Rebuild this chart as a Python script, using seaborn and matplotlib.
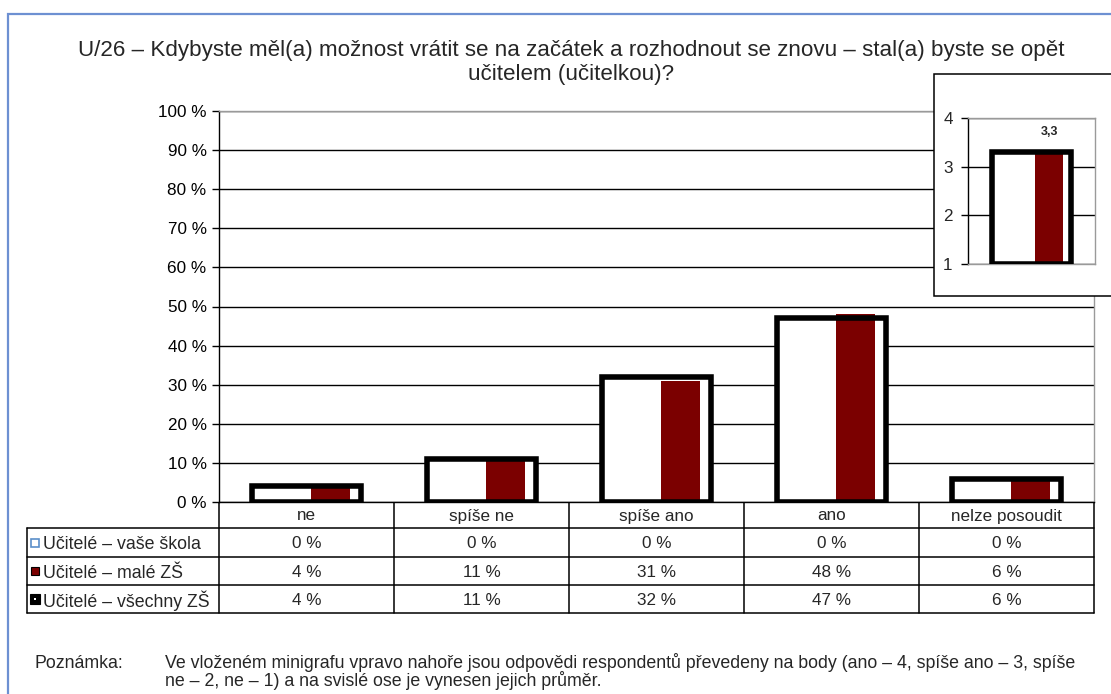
import numpy as np
import pandas as pd
import seaborn as sns
import matplotlib.pyplot as plt
from matplotlib.patches import Rectangle
from matplotlib.lines import Line2D
from matplotlib import transforms

# ---- data ----
categories = ['ne', 'spíše ne', 'spíše ano', 'ano', 'nelze posoudit']
vase_skola = [0, 0, 0, 0, 0]
male_zs = [4, 11, 31, 48, 6]
vsechny_zs = [4, 11, 32, 47, 6]
series_labels = ['Učitelé – vaše škola', 'Učitelé – malé ZŠ', 'Učitelé – všechny ZŠ']
y_ticks = [0, 10, 20, 30, 40, 50, 60, 70, 80, 90, 100]
inset_male = 3.3
inset_vsechny = 3.3
inset_ticks = [1, 2, 3, 4]
title_lines = ['U/26 – Kdybyste měl(a) možnost vrátit se na začátek a rozhodnout se znovu – stal(a) byste se opět',
               'učitelem (učitelkou)?']
note_label = 'Poznámka:'
note_lines = ['Ve vloženém minigrafu vpravo nahoře jsou odpovědi respondentů převedeny na body (ano – 4, spíše ano – 3, spíše',
              'ne – 2, ne – 1) a na svislé ose je vynesen jejich průměr.']

sns.set_theme(style='white')
plt.rcParams['font.family'] = ['Liberation Sans', 'DejaVu Sans']

W, H = 1111, 694
fig = plt.figure(figsize=(W / 100, H / 100), dpi=100)
fig.patch.set_facecolor('white')

def fx(px):
    return px / W

def fy(py):
    return 1 - py / H

RED = '#7b0000'
GRAY = '#9a9a9a'
FS_TICK = 12.3
FS_TAB = 12.3

# outer blue frame
fig.add_artist(Rectangle((fx(8), fy(720)), fx(1200), fy(14) - fy(720), transform=fig.transFigure,
                         facecolor='none', edgecolor='#6d90d2', lw=1.6, zorder=0))

# ---- main axes ----
ax = fig.add_axes([fx(219), fy(502), fx(1094) - fx(219), fy(111) - fy(502)])
df = pd.DataFrame({'cat': categories, 'vsechny': vsechny_zs, 'male': male_zs})

sns.barplot(data=df, x='cat', y='vsechny', color='white', saturation=1, width=0.62,
            edgecolor='none', linewidth=0, ax=ax, zorder=2)
xpos = np.arange(len(categories))
ax.bar(xpos + 0.138, df['male'], width=0.225, color=RED, edgecolor='none', zorder=3)
sns.barplot(data=df, x='cat', y='vsechny', color='black', fill=False, width=0.62,
            linewidth=4.0, ax=ax, zorder=4)

ax.set_xlim(-0.5, len(categories) - 0.5)
ax.set_ylim(0, 100)
ax.set_yticks(y_ticks)
ax.set_yticklabels([f'{v} %' for v in y_ticks])
ax.set_xticks([])
ax.set_xlabel('')
ax.set_ylabel('')
ax.yaxis.grid(True, color='black', lw=1.0)
ax.set_axisbelow(True)
ax.tick_params(axis='y', which='major', left=True, length=5, width=1, color='black',
               labelsize=FS_TICK, pad=4, labelcolor='black')
for s in ['left', 'bottom']:
    ax.spines[s].set_color('black')
    ax.spines[s].set_linewidth(1)
for s in ['top', 'right']:
    ax.spines[s].set_color(GRAY)
    ax.spines[s].set_linewidth(1)
for s in ax.spines.values():
    s.set_visible(True)

# ---- data table ----
bt = transforms.blended_transform_factory(ax.transData, fig.transFigure)
row_lines = [503, 528, 557, 585, 613]
row_centers = [(row_lines[i] + row_lines[i + 1]) / 2 for i in range(4)]
table_left = 27
lc = 'black'
for k in range(len(categories) + 1):
    fig.add_artist(Line2D([k - 0.5, k - 0.5], [fy(503), fy(613)], transform=bt, color=lc, lw=1.1))
fig.add_artist(Line2D([fx(table_left), fx(table_left)], [fy(528), fy(613)],
                      transform=fig.transFigure, color=lc, lw=1.1))
for yl in row_lines[1:]:
    fig.add_artist(Line2D([fx(table_left), fx(1094)], [fy(yl), fy(yl)],
                          transform=fig.transFigure, color=lc, lw=1.1))

for i, c in enumerate(categories):
    fig.text(i, fy(row_centers[0] - 1), c, transform=bt, ha='center', va='center_baseline', fontsize=FS_TAB)

rows = [vase_skola, male_zs, vsechny_zs]
for r, vals in enumerate(rows):
    yc = fy(row_centers[r + 1])
    for i, v in enumerate(vals):
        fig.text(i, yc, f'{v} %', transform=bt, ha='center', va='center_baseline', fontsize=FS_TAB)
    fig.text(fx(43), yc, series_labels[r], ha='left', va='center_baseline', fontsize=12.8)

# legend keys in table
ky = [row_centers[1], row_centers[2], row_centers[3]]
fig.add_artist(Rectangle((fx(31), fy(ky[0] + 4)), fx(8), fy(ky[0] - 4) - fy(ky[0] + 4),
                         transform=fig.transFigure, facecolor='white', edgecolor='#5b8fc9', lw=1.2))
fig.add_artist(Rectangle((fx(31), fy(ky[1] + 4)), fx(8), fy(ky[1] - 4) - fy(ky[1] + 4),
                         transform=fig.transFigure, facecolor=RED, edgecolor='black', lw=0.8))
fig.add_artist(Rectangle((fx(30), fy(ky[2] + 5)), fx(10), fy(ky[2] - 5) - fy(ky[2] + 5),
                         transform=fig.transFigure, facecolor='black', edgecolor='black', lw=0.8))
fig.add_artist(Rectangle((fx(34), fy(ky[2] + 1)), fx(2), fy(ky[2] - 1) - fy(ky[2] + 1),
                         transform=fig.transFigure, facecolor='white', edgecolor='none'))

# ---- inset ----
fig.add_artist(Rectangle((fx(934), fy(296)), fx(300), fy(74) - fy(296), transform=fig.transFigure,
                         facecolor='white', edgecolor='black', lw=1.1, zorder=5))
ax2 = fig.add_axes([fx(968), fy(264), fx(1095) - fx(968), fy(118) - fy(264)], zorder=6)
ax2.patch.set_alpha(0)
base = inset_ticks[0]
ax2.bar([0], [inset_vsechny - base], bottom=base, width=0.62, color='white', edgecolor='none', zorder=2)
ax2.bar([0.138], [inset_male - base], bottom=base, width=0.22, color=RED, edgecolor='none', zorder=3)
ax2.bar([0], [inset_vsechny - base], bottom=base, width=0.62, facecolor='none', edgecolor='black',
        lw=4.0, zorder=4)
ax2.annotate(f'{inset_male:.1f}'.replace('.', ','), xy=(0.138, inset_vsechny), xytext=(0, 10),
             textcoords='offset points', ha='center', va='bottom', fontsize=9, fontweight='bold')
ax2.set_xlim(-0.5, 0.5)
ax2.set_ylim(inset_ticks[0], inset_ticks[-1])
ax2.set_yticks(inset_ticks)
ax2.set_yticklabels([str(t) for t in inset_ticks])
ax2.set_xticks([])
ax2.yaxis.grid(True, color='black', lw=1.0)
ax2.set_axisbelow(True)
ax2.tick_params(axis='y', left=True, length=5, width=1, color='black', labelsize=FS_TICK, pad=6)
for s in ax2.spines.values():
    s.set_visible(True)
    s.set_color(GRAY)
    s.set_linewidth(1)
ax2.spines['left'].set_color('black')

# ---- title & note ----
fig.text(fx(571), fy(48), title_lines[0], ha='center', va='center_baseline', fontsize=16.1)
fig.text(fx(571), fy(72), title_lines[1], ha='center', va='center_baseline', fontsize=16.1)
FS_NOTE = 12.8
fig.text(fx(35), fy(661), note_label, ha='left', va='center_baseline', fontsize=FS_NOTE)
fig.text(fx(165), fy(661), note_lines[0], ha='left', va='center_baseline', fontsize=FS_NOTE)
fig.text(fx(165), fy(679), note_lines[1], ha='left', va='center_baseline', fontsize=FS_NOTE)

fig.savefig('out.png', dpi=100, facecolor='white')
